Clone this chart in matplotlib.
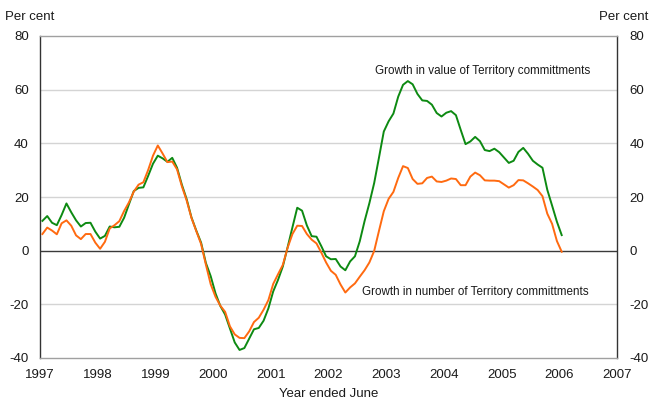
import matplotlib
matplotlib.use("Agg")
import matplotlib.pyplot as plt
import numpy as np

plt.rcParams['font.family'] = ['Liberation Sans', 'DejaVu Sans']

# Monthly observations, first point mid-1997 axis start
start_year = 1997
n_months = 109

value_growth = [
    11.1, 12.9, 10.4, 9.5, 13.3, 17.6, 14.3, 11.3, 9.0, 10.3, 10.4, 7.1,
    4.5, 5.5, 9.0, 8.7, 8.9, 12.3, 17.3, 22.2, 23.4, 23.6, 27.9, 32.4,
    35.4, 34.4, 33.1, 34.6, 30.9, 24.6, 19.2, 12.4, 7.5, 3.0, -4.6, -9.5,
    -15.9, -20.6, -23.8, -29.0, -34.2, -37.0, -36.3, -32.8, -29.3, -28.8, -26.1, -21.5,
    -15.2, -10.9, -5.9, 1.3, 8.7, 16.0, 14.9, 9.4, 5.4, 5.2, 1.7, -2.1,
    -3.2, -3.1, -5.9, -7.3, -4.0, -2.1, 3.5, 11.0, 17.7, 25.2, 34.7, 44.4,
    48.2, 51.1, 57.4, 61.8, 63.2, 62.0, 58.4, 56.0, 55.8, 54.4, 51.3, 50.0,
    51.4, 52.0, 50.5, 45.0, 39.7, 40.7, 42.4, 40.8, 37.5, 37.1, 38.0, 36.7,
    34.7, 32.7, 33.5, 36.8, 38.3, 36.1, 33.5, 32.1, 30.9, 22.7, 16.8, 10.8,
    5.8,
]

number_growth = [
    6.2, 8.6, 7.5, 6.1, 10.2, 11.3, 9.3, 5.7, 4.3, 6.2, 6.2, 3.0,
    0.7, 3.3, 8.3, 9.5, 11.0, 14.8, 18.0, 22.0, 24.6, 25.5, 30.1, 35.4,
    39.2, 36.2, 33.0, 33.2, 30.3, 24.0, 18.7, 12.2, 7.3, 2.5, -5.2, -12.5,
    -17.2, -20.5, -22.8, -28.2, -31.2, -32.5, -32.6, -30.1, -26.6, -25.0, -22.0, -18.4,
    -12.4, -8.8, -5.3, 1.1, 6.2, 9.3, 9.2, 6.2, 4.1, 2.7, -0.7, -4.4,
    -7.5, -9.0, -12.6, -15.6, -13.7, -12.2, -9.7, -7.3, -4.4, -0.1, 7.4, 14.7,
    19.3, 21.9, 27.1, 31.5, 30.8, 26.7, 24.9, 25.1, 27.1, 27.6, 25.8, 25.6,
    26.1, 26.9, 26.7, 24.4, 24.4, 27.6, 29.1, 28.1, 26.2, 26.1, 26.1, 25.9,
    24.7, 23.5, 24.4, 26.3, 26.2, 25.1, 23.9, 22.6, 20.3, 13.8, 10.0, 3.6,
    -0.4,
]

x_ticks = list(range(1997, 2008))
y_ticks = [-40, -20, 0, 20, 40, 60, 80]

dates = start_year + (np.arange(n_months) + 0.5) / 12.0

fig = plt.figure(figsize=(6.53, 4.07), dpi=100)
ax = fig.add_axes([40/653, 49/407, 577/653, 322/407])

ax.set_xlim(1997, 2007)
ax.set_ylim(-40, 80)

for yv in [-20, 20, 40, 60]:
    ax.axhline(yv, color='#d4d4d4', lw=1.0, zorder=1)
ax.axhline(0, color='#3a3a3a', lw=1.0, zorder=2)

ax.plot(dates, value_growth, color='#0d8a12', lw=1.4, zorder=3)
ax.plot(dates, number_growth, color='#ff6a10', lw=1.4, zorder=3)

for side in ['left', 'right']:
    ax.spines[side].set_color('#333333')
    ax.spines[side].set_linewidth(1.0)
for side in ['top', 'bottom']:
    ax.spines[side].set_color('#a0a0a0')
    ax.spines[side].set_linewidth(1.0)

ax.set_xticks(x_ticks)
ax.set_xticklabels([str(t) for t in x_ticks])
ax.set_yticks(y_ticks)
ax.set_yticklabels([str(t) for t in y_ticks])
ax.tick_params(axis='both', length=0, labelsize=9.5, colors='#1a1a1a')
ax.tick_params(axis='x', pad=8)
ax.tick_params(axis='y', pad=8)

ax2 = ax.twinx()
ax2.set_ylim(-40, 80)
ax2.set_yticks(y_ticks)
ax2.set_yticklabels([str(t) for t in y_ticks])
ax2.tick_params(axis='y', length=0, labelsize=9.5, colors='#1a1a1a', pad=9)
for s in ax2.spines.values():
    s.set_visible(False)

ax.set_xlabel('Year ended June', fontsize=9.5, color='#1a1a1a', labelpad=5)

fig.text(5/653, 1 - 17/407, 'Per cent', fontsize=9.5, color='#1a1a1a', va='center', ha='left')
fig.text(648/653, 1 - 17/407, 'Per cent', fontsize=9.5, color='#1a1a1a', va='center', ha='right')

ax.text(2002.81, 67, 'Growth in value of Territory committments', fontsize=8.4,
        color='#1a1a1a', ha='left', va='center')
ax.text(2002.58, -15.3, 'Growth in number of Territory committments', fontsize=8.4,
        color='#1a1a1a', ha='left', va='center')

fig.savefig('out.png', dpi=100)
